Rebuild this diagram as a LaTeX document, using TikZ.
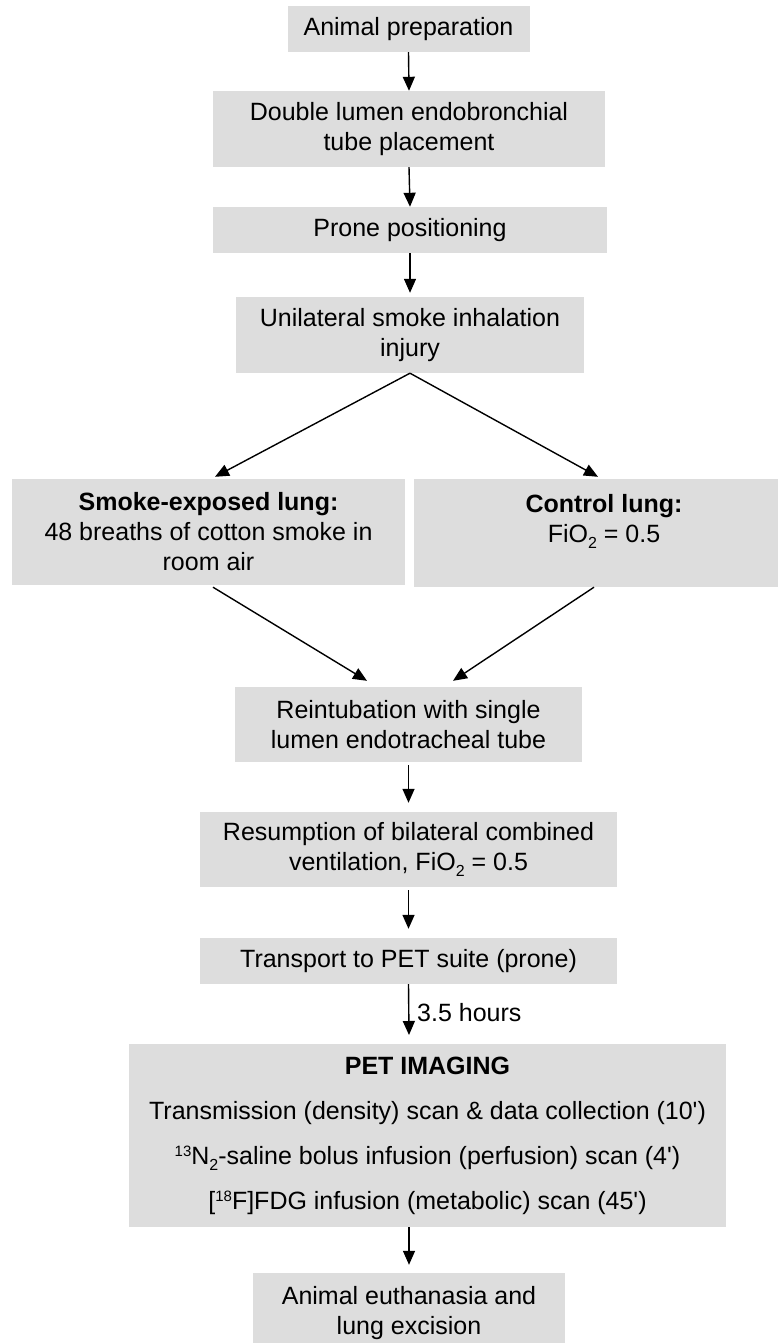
\documentclass[tikz,border=0pt]{standalone}
\usepackage{fontspec}
\setmainfont{Liberation Sans}
\usetikzlibrary{arrows.meta}
\definecolor{boxgray}{RGB}{221,221,221}
\newcommand{\supr}[1]{\raisebox{0.6ex}{\fontsize{15}{15}\selectfont #1}}
\newcommand{\subr}[1]{\raisebox{-0.45ex}{\fontsize{16}{16}\selectfont #1}}
\begin{document}
\begin{tikzpicture}[x=1pt,y=-1pt,
  box/.style={fill=boxgray, draw=none, align=center, inner sep=0pt,
    font=\fontsize{25}{30}\selectfont},
  arr/.style={-{Triangle[length=14pt,width=12pt]}, line width=1.4pt},
  lbl/.style={inner sep=0pt, anchor=west, font=\fontsize{25}{30}\selectfont}]
\useasboundingbox (0,0) rectangle (778,1343);
\fill[white] (0,0) rectangle (778,1343);

\node[box, minimum width=242pt, minimum height=46pt] (b1) at (408.5,29) {Animal preparation};
\node[box, minimum width=392pt, minimum height=76pt] (b2) at (409,129) {Double lumen endobronchial\\tube placement};
\node[box, minimum width=394pt, minimum height=46pt] (b3) at (410,230) {Prone positioning};
\node[box, minimum width=348pt, minimum height=76pt] (b4) at (410,335) {Unilateral smoke inhalation\\injury};
\node[box, minimum width=393pt, minimum height=106pt] (sl) at (208.5,532) {\textbf{Smoke-exposed lung:}\\48 breaths of cotton smoke in\\room air};
\node[box, minimum width=380pt, minimum height=108pt] (cl) at (604,533) {\textbf{Control lung:}\\FiO\subr{2} = 0.5\\\mbox{}};
\node[box, minimum width=347pt, minimum height=75pt] (b5) at (408.5,724.5) {Reintubation with single\\lumen endotracheal tube};
\node[box, minimum width=417pt, minimum height=75pt] (b6) at (408.5,849.5) {Resumption of bilateral combined\\ventilation, FiO\subr{2} = 0.5};
\node[box, minimum width=417pt, minimum height=46pt] (b7) at (408.5,961) {Transport to PET suite (prone)};
\node[box, minimum width=597pt, minimum height=183pt, font=\fontsize{25}{45}\selectfont] (pet) at (427.5,1135.5)
  {\textbf{PET IMAGING}\\Transmission (density) scan \& data collection (10\textquotesingle)\\\supr{13}N\subr{2}-saline bolus infusion (perfusion) scan (4\textquotesingle)\\{}[\supr{18}F]FDG infusion (metabolic) scan (45\textquotesingle)};
\node[box, minimum width=312pt, minimum height=80pt] (b8) at (409,1313) {Animal euthanasia and\\lung excision};

\coordinate (t7) at (409,1035);
\coordinate (s8) at (409,1227);
\draw[arr] (b1.south) -- (b2.north);
\draw[arr] (b2.south) -- (b3.north);
\draw[arr] (b3.south) -- ([yshift=4pt]b4.north);
\draw[arr] (b4.south) -- ([xshift=6.5pt,yshift=2pt]sl.north);
\draw[arr] (b4.south) -- ([xshift=-6pt,yshift=2pt]cl.north);
\draw[arr] ([xshift=4.5pt,yshift=-2pt]sl.south) -- ([xshift=-41.5pt,yshift=6pt]b5.north);
\draw[arr] ([xshift=-10pt]cl.south) -- ([xshift=44.5pt,yshift=6pt]b5.north);
\draw[arr] ([yshift=-3pt]b5.south) -- ([yshift=9pt]b6.north);
\draw[arr] ([yshift=-3pt]b6.south) -- ([yshift=9pt]b7.north);
\draw[arr] (b7.south) -- (t7);
\node[lbl] (hrs) at (417,1013) {3.5 hours};
\draw[arr] (s8) -- ([yshift=8pt]b8.north);
\end{tikzpicture}
\end{document}
